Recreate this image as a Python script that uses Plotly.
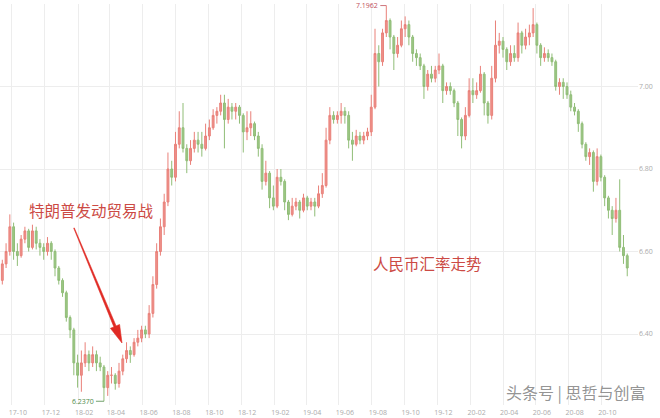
import pandas as pd
import plotly.graph_objects as go

# weekly candles (mid-week dates)
weeks = pd.date_range("2017-09-13", periods=167, freq="7D")

opens = [
    6.53, 6.57, 6.60, 6.66, 6.60, 6.59, 6.63, 6.65, 6.61, 6.65,
    6.62, 6.61, 6.60, 6.62, 6.60, 6.56, 6.53, 6.50, 6.44, 6.41,
    6.33, 6.30, 6.33, 6.35, 6.33, 6.35, 6.33, 6.32, 6.27, 6.30,
    6.30, 6.28, 6.31, 6.34, 6.36, 6.35, 6.38, 6.39, 6.41, 6.40,
    6.45, 6.52, 6.60, 6.66, 6.72, 6.80, 6.78, 6.86, 6.90, 6.85,
    6.82, 6.85, 6.87, 6.86, 6.85, 6.88, 6.90, 6.93, 6.94, 6.96,
    6.92, 6.95, 6.94, 6.95, 6.93, 6.89, 6.90, 6.91, 6.88, 6.85,
    6.77, 6.79, 6.73, 6.71, 6.78, 6.77, 6.72, 6.69, 6.71, 6.72,
    6.70, 6.73, 6.71, 6.72, 6.71, 6.74, 6.76, 6.87, 6.93, 6.92,
    6.93, 6.94, 6.93, 6.87, 6.86, 6.88, 6.87, 6.88, 6.89, 6.95,
    7.08, 7.06, 7.13, 7.16, 7.12, 7.08, 7.10, 7.14, 7.15, 7.12,
    7.08, 7.07, 7.05, 7.00, 7.03, 7.02, 7.04, 7.05, 6.99, 7.00,
    6.99, 6.96, 6.92, 6.88, 6.93, 6.99, 6.98, 6.99, 7.03, 6.96,
    6.93, 7.02, 7.10, 7.11, 7.09, 7.06, 7.08, 7.07, 7.13, 7.10,
    7.12, 7.13, 7.15, 7.10, 7.07, 7.08, 7.07, 7.06, 7.00, 7.01,
    7.00, 6.98, 6.95, 6.94, 6.91, 6.86, 6.83, 6.84, 6.77, 6.83,
    6.78, 6.73, 6.70, 6.68, 6.70, 6.61, 6.59,
]
highs = [
    6.58, 6.62, 6.69, 6.67, 6.62, 6.64, 6.66, 6.655, 6.665, 6.66,
    6.63, 6.62, 6.635, 6.625, 6.605, 6.565, 6.535, 6.505, 6.445, 6.415,
    6.35, 6.36, 6.38, 6.36, 6.37, 6.36, 6.345, 6.325, 6.31, 6.32,
    6.305, 6.33, 6.35, 6.38, 6.37, 6.39, 6.41, 6.42, 6.42, 6.47,
    6.54, 6.62, 6.68, 6.74, 6.84, 6.82, 6.89, 6.94, 6.96, 6.86,
    6.87, 6.89, 6.89, 6.89, 6.91, 6.92, 6.945, 6.95, 6.98, 6.98,
    6.97, 6.96, 6.96, 6.955, 6.935, 6.94, 6.94, 6.915, 6.89, 6.86,
    6.82, 6.795, 6.76, 6.80, 6.80, 6.775, 6.725, 6.73, 6.73, 6.725,
    6.74, 6.735, 6.73, 6.73, 6.76, 6.79, 6.90, 6.95, 6.94, 6.94,
    6.96, 6.95, 6.94, 6.89, 6.895, 6.89, 6.89, 6.90, 6.98, 7.14,
    7.10, 7.14, 7.1962, 7.165, 7.125, 7.12, 7.16, 7.17, 7.16, 7.125,
    7.09, 7.08, 7.055, 7.04, 7.05, 7.05, 7.08, 7.055, 7.01, 7.01,
    6.995, 6.965, 6.925, 6.95, 7.02, 7.02, 7.01, 7.05, 7.035, 6.965,
    7.05, 7.16, 7.13, 7.12, 7.095, 7.10, 7.10, 7.155, 7.135, 7.14,
    7.15, 7.19, 7.155, 7.105, 7.095, 7.09, 7.08, 7.065, 7.02, 7.02,
    7.01, 6.99, 6.96, 6.945, 6.915, 6.865, 6.85, 6.845, 6.85, 6.835,
    6.785, 6.735, 6.71, 6.73, 6.775, 6.64, 6.595,
]
lows = [
    6.52, 6.56, 6.59, 6.58, 6.565, 6.585, 6.62, 6.60, 6.605, 6.605,
    6.59, 6.58, 6.59, 6.58, 6.54, 6.52, 6.49, 6.43, 6.39, 6.30,
    6.27, 6.26, 6.32, 6.31, 6.32, 6.31, 6.31, 6.237, 6.25, 6.28,
    6.265, 6.27, 6.30, 6.33, 6.33, 6.345, 6.37, 6.38, 6.39, 6.39,
    6.44, 6.51, 6.59, 6.64, 6.71, 6.76, 6.77, 6.85, 6.84, 6.79,
    6.81, 6.84, 6.84, 6.83, 6.845, 6.87, 6.895, 6.91, 6.93, 6.85,
    6.91, 6.92, 6.92, 6.91, 6.84, 6.87, 6.88, 6.87, 6.83, 6.75,
    6.76, 6.705, 6.70, 6.705, 6.76, 6.70, 6.676, 6.685, 6.70, 6.68,
    6.695, 6.70, 6.70, 6.685, 6.705, 6.73, 6.755, 6.86, 6.91, 6.91,
    6.91, 6.91, 6.85, 6.82, 6.855, 6.86, 6.86, 6.87, 6.88, 6.945,
    7.00, 7.05, 7.12, 7.09, 7.04, 7.07, 7.095, 7.12, 7.10, 7.06,
    7.05, 7.04, 6.97, 6.99, 7.01, 7.01, 7.03, 6.96, 6.98, 6.98,
    6.95, 6.88, 6.85, 6.87, 6.925, 6.96, 6.97, 6.985, 6.93, 6.91,
    6.92, 7.01, 7.08, 7.07, 7.04, 7.05, 7.06, 7.06, 7.08, 7.09,
    7.10, 7.12, 7.08, 7.05, 7.06, 7.06, 7.05, 6.99, 6.98, 6.97,
    6.97, 6.94, 6.93, 6.89, 6.85, 6.82, 6.81, 6.745, 6.76, 6.77,
    6.71, 6.68, 6.64, 6.67, 6.60, 6.57, 6.54,
]
closes = [
    6.57, 6.60, 6.66, 6.60, 6.59, 6.63, 6.65, 6.61, 6.65, 6.62,
    6.61, 6.60, 6.62, 6.60, 6.56, 6.53, 6.50, 6.44, 6.41, 6.33,
    6.30, 6.33, 6.35, 6.33, 6.35, 6.33, 6.32, 6.27, 6.30, 6.30,
    6.28, 6.31, 6.34, 6.36, 6.35, 6.38, 6.39, 6.41, 6.40, 6.45,
    6.52, 6.60, 6.66, 6.72, 6.80, 6.78, 6.86, 6.90, 6.85, 6.82,
    6.85, 6.87, 6.86, 6.85, 6.88, 6.90, 6.93, 6.94, 6.96, 6.92,
    6.95, 6.94, 6.95, 6.93, 6.89, 6.90, 6.91, 6.88, 6.85, 6.77,
    6.79, 6.73, 6.71, 6.78, 6.77, 6.72, 6.69, 6.71, 6.72, 6.70,
    6.73, 6.71, 6.72, 6.71, 6.74, 6.76, 6.87, 6.93, 6.92, 6.93,
    6.94, 6.93, 6.87, 6.86, 6.88, 6.87, 6.88, 6.89, 6.95, 7.08,
    7.06, 7.13, 7.16, 7.12, 7.08, 7.10, 7.14, 7.15, 7.12, 7.08,
    7.07, 7.05, 7.00, 7.03, 7.02, 7.04, 7.05, 6.99, 7.00, 6.99,
    6.96, 6.92, 6.88, 6.93, 6.99, 6.98, 6.99, 7.03, 6.96, 6.93,
    7.02, 7.10, 7.11, 7.09, 7.06, 7.08, 7.07, 7.13, 7.10, 7.12,
    7.13, 7.15, 7.10, 7.07, 7.08, 7.07, 7.06, 7.00, 7.01, 7.00,
    6.98, 6.95, 6.94, 6.91, 6.86, 6.83, 6.84, 6.77, 6.83, 6.78,
    6.73, 6.70, 6.68, 6.70, 6.61, 6.59, 6.56,
]

x_tick_dates = [
    "2017-10-01", "2017-12-01", "2018-02-01", "2018-04-01", "2018-06-01",
    "2018-08-01", "2018-10-01", "2018-12-01", "2019-02-01", "2019-04-01",
    "2019-06-01", "2019-08-01", "2019-10-01", "2019-12-01", "2020-02-01",
    "2020-04-01", "2020-06-01", "2020-08-01", "2020-10-01",
]
x_tick_labels = [
    "17-10", "17-12", "18-02", "18-04", "18-06", "18-08", "18-10", "18-12",
    "19-02", "19-04", "19-06", "19-08", "19-10", "19-12", "20-02", "20-04",
    "20-06", "20-08", "20-10",
]
y_ticks = [6.40, 6.60, 6.80, 7.00, 7.20]
max_idx, max_val = 102, 7.1962
min_idx, min_val = 27, 6.2370

W, H = 660, 418
L, R, T, B = 0, 22, 4, 13
PW, PH = W - L - R, H - T - B


def px(x):
    return (x - L) / PW


def py(y):
    return (H - B - y) / PH


fig = go.Figure()
fig.add_trace(go.Candlestick(
    x=weeks, open=opens, high=highs, low=lows, close=closes,
    increasing=dict(line=dict(color="#e98079", width=1), fillcolor="#ee918b"),
    decreasing=dict(line=dict(color="#90bd77", width=1), fillcolor="#9dc786"),
    whiskerwidth=0, showlegend=False, hoverinfo="skip",
))

# tapered red arrow (pixel coordinates converted to paper)
pts = [(73.7, 228.1), (113.9, 326.9), (110.4, 328.3), (122.0, 343.0),
       (119.6, 324.5), (116.1, 325.9), (74.3, 227.9)]
path = "M " + " L ".join(f"{px(a):.5f},{py(b):.5f}" for a, b in pts) + " Z"
fig.add_shape(type="path", path=path, xref="paper", yref="paper",
              fillcolor="#e02a24", line=dict(color="#e02a24", width=0.6))

cjk = "Noto Sans CJK SC"
fig.add_annotation(x=px(27), y=py(210), xref="paper", yref="paper",
                   text="特朗普发动贸易战", showarrow=False, xanchor="left",
                   yanchor="middle", font=dict(family=cjk, size=15.5, color="#cc4a44"))
fig.add_annotation(x=px(371), y=py(263), xref="paper", yref="paper",
                   text="人民币汇率走势", showarrow=False, xanchor="left",
                   yanchor="middle", font=dict(family=cjk, size=15.5, color="#cc4a44"))
fig.add_annotation(x=px(648), y=py(392), xref="paper", yref="paper",
                   text="头条号 | 思哲与创富", showarrow=False, xanchor="right",
                   yanchor="middle", font=dict(family=cjk, size=16, color="rgba(120,120,120,0.8)"))

fig.add_annotation(x=weeks[max_idx], y=max_val, text=f"{max_val:.4f}",
                   showarrow=True, arrowhead=0, arrowwidth=0.8, arrowcolor="#c0505a",
                   ax=-6, ay=0, xanchor="right", yanchor="middle",
                   font=dict(family="Open Sans", size=7, color="#c0505a"))
fig.add_annotation(x=weeks[min_idx], y=min_val, text=f"{min_val:.4f}",
                   showarrow=True, arrowhead=0, arrowwidth=0.8, arrowcolor="#4f8a4a",
                   ax=-8, ay=0, xanchor="right", yanchor="middle",
                   font=dict(family="Open Sans", size=7, color="#4f8a4a"))

fig.update_layout(
    width=W, height=H,
    margin=dict(l=L, r=R, t=T, b=B),
    paper_bgcolor="white", plot_bgcolor="white",
    xaxis=dict(
        type="date", range=["2017-09-08 17:00", "2020-12-08"],
        tickvals=x_tick_dates, ticktext=x_tick_labels,
        showgrid=True, gridcolor="#ededed", gridwidth=1,
        zeroline=False, showline=False, ticks="",
        tickfont=dict(family="Open Sans", size=7, color="#ababab"),
        ticklabelshift=6, ticklabelstandoff=2, rangeslider=dict(visible=False),
    ),
    yaxis=dict(
        side="right", range=[6.2279, 7.20], tickvals=y_ticks, tickformat=".2f",
        showgrid=True, gridcolor="#ededed", gridwidth=1,
        zeroline=False, showline=False, ticks="",
        tickfont=dict(family="Open Sans", size=7, color="#ababab"),
    ),
)

fig.write_html("out.html", config={"displayModeBar": False},
               post_script="document.body.style.margin='0';document.body.style.padding='0';")
